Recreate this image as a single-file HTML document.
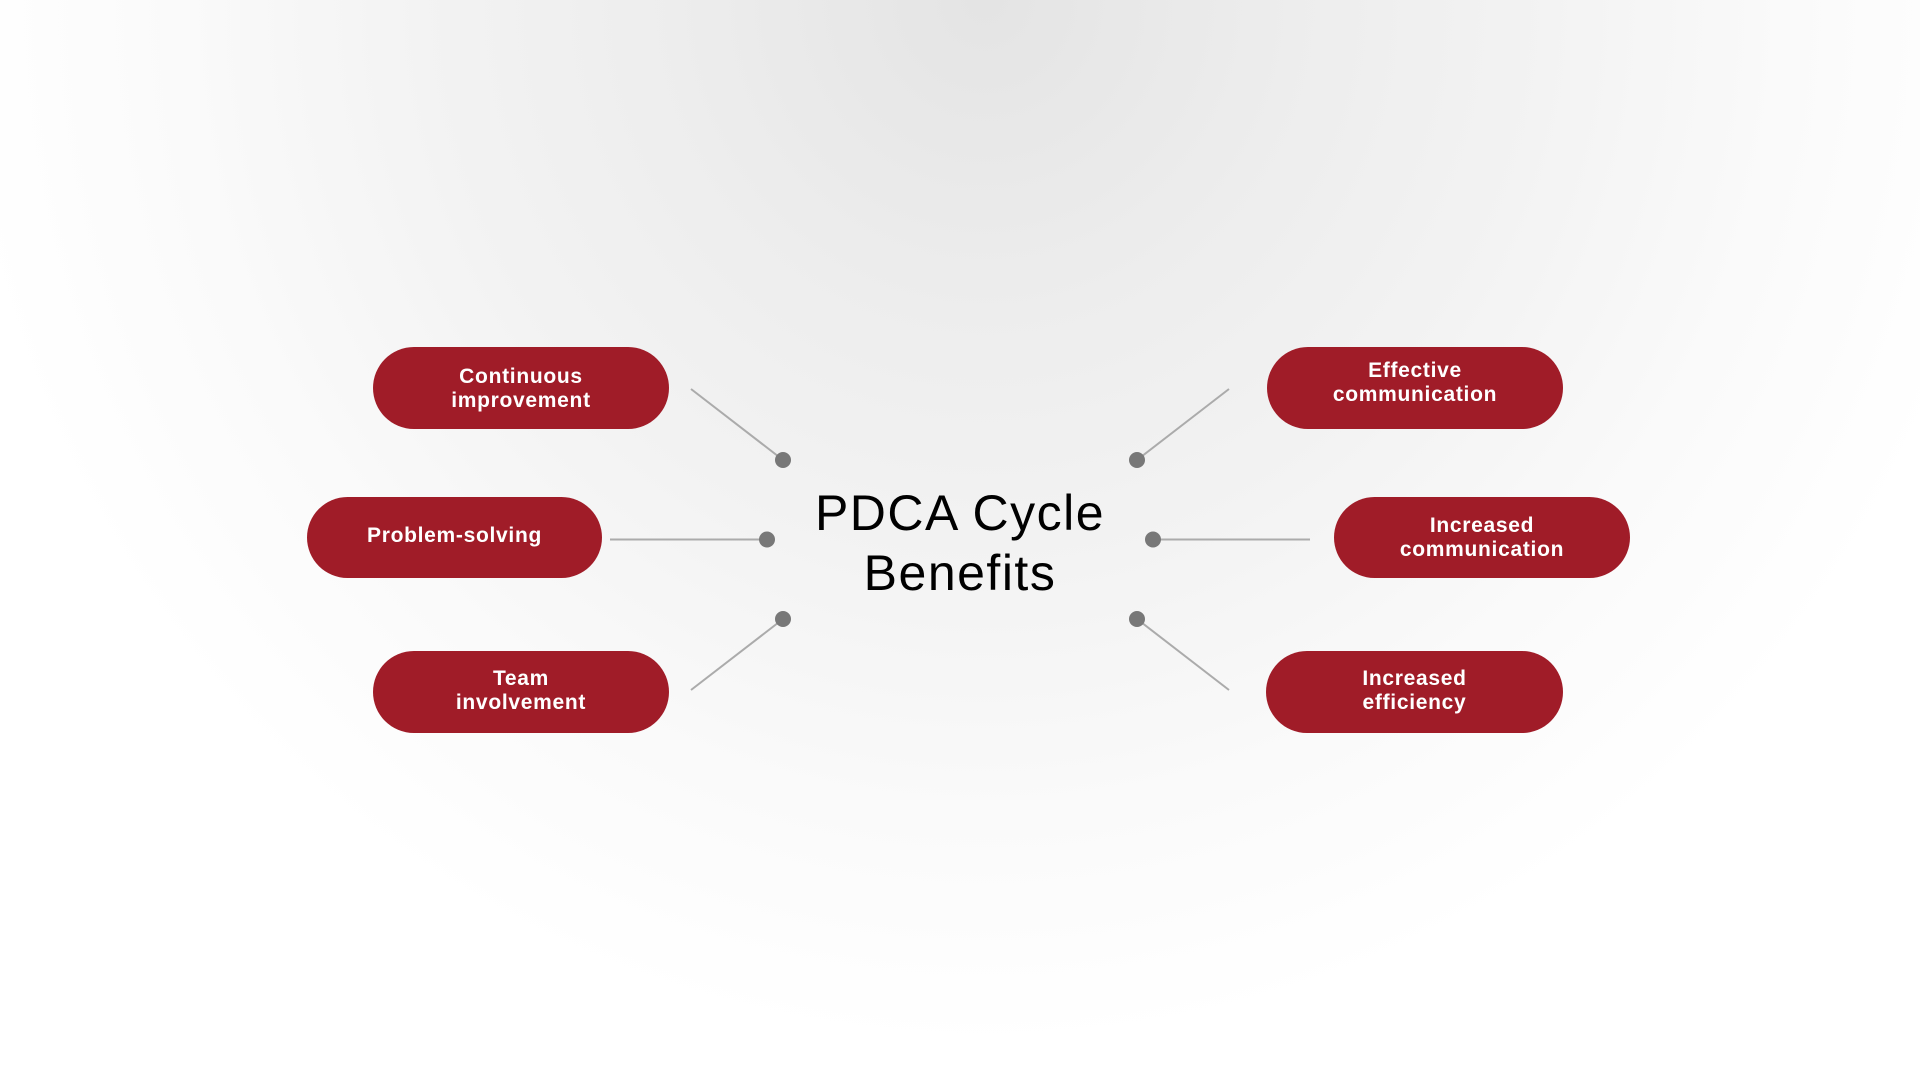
<!DOCTYPE html>
<html>
<head>
<meta charset="utf-8">
<style>
  html, body { margin:0; padding:0; }
  body {
    width:1920px; height:1080px; overflow:hidden; position:relative;
    background:#ffffff;
    background: radial-gradient(ellipse 1030px 1045px at 985px 0px, #e4e4e4 0%, #ededed 30%, #f3f3f3 55%, #fafafa 78%, #ffffff 100%);
    font-family:"Liberation Sans", Arial, sans-serif;
  }
  .pill {
    position:absolute; background:#a01c28; border-radius:41px;
    width:296px; height:82px;
  }
  .pill .t {
    position:absolute; left:0; right:0; text-align:center;
    color:#ffffff; font-weight:bold; font-size:21px; line-height:24px;
    letter-spacing:0.7px; white-space:nowrap;
  }
  .title {
    position:absolute; left:660px; width:600px; top:483px;
    text-align:center; font-size:50px; line-height:60px; color:#000;
    letter-spacing:1.5px;
  }
  svg { position:absolute; left:0; top:0; }
</style>
</head>
<body>
<svg width="1920" height="1080" viewBox="0 0 1920 1080">
  <g stroke="#ababab" stroke-width="2" fill="none">
    <line x1="691" y1="389" x2="783" y2="460"/>
    <line x1="610" y1="539.5" x2="767" y2="539.5"/>
    <line x1="691" y1="690" x2="783" y2="619"/>
    <line x1="1229" y1="389" x2="1137" y2="460"/>
    <line x1="1310" y1="539.5" x2="1153" y2="539.5"/>
    <line x1="1229" y1="690" x2="1137" y2="619"/>
  </g>
  <g fill="#787878">
    <circle cx="783" cy="460" r="8"/>
    <circle cx="767" cy="539.5" r="8"/>
    <circle cx="783" cy="619" r="8"/>
    <circle cx="1137" cy="460" r="8"/>
    <circle cx="1153" cy="539.5" r="8"/>
    <circle cx="1137" cy="619" r="8"/>
  </g>
</svg>

<div class="pill" style="left:373px;top:347px;">
  <div class="t" style="top:18px;">Continuous<br>improvement</div>
</div>
<div class="pill" style="left:307px;top:497px;height:81px;width:295px;">
  <div class="t" style="top:27px;">Problem-solving</div>
</div>
<div class="pill" style="left:373px;top:651px;">
  <div class="t" style="top:16px;">Team<br>involvement</div>
</div>

<div class="pill" style="left:1267px;top:347px;">
  <div class="t" style="top:12px;">Effective<br>communication</div>
</div>
<div class="pill" style="left:1334px;top:497px;height:81px;">
  <div class="t" style="top:16.5px;">Increased<br>communication</div>
</div>
<div class="pill" style="left:1266px;top:651px;width:297px;">
  <div class="t" style="top:16px;">Increased<br>efficiency</div>
</div>

<div class="title">PDCA Cycle<br>Benefits</div>
</body>
</html>
